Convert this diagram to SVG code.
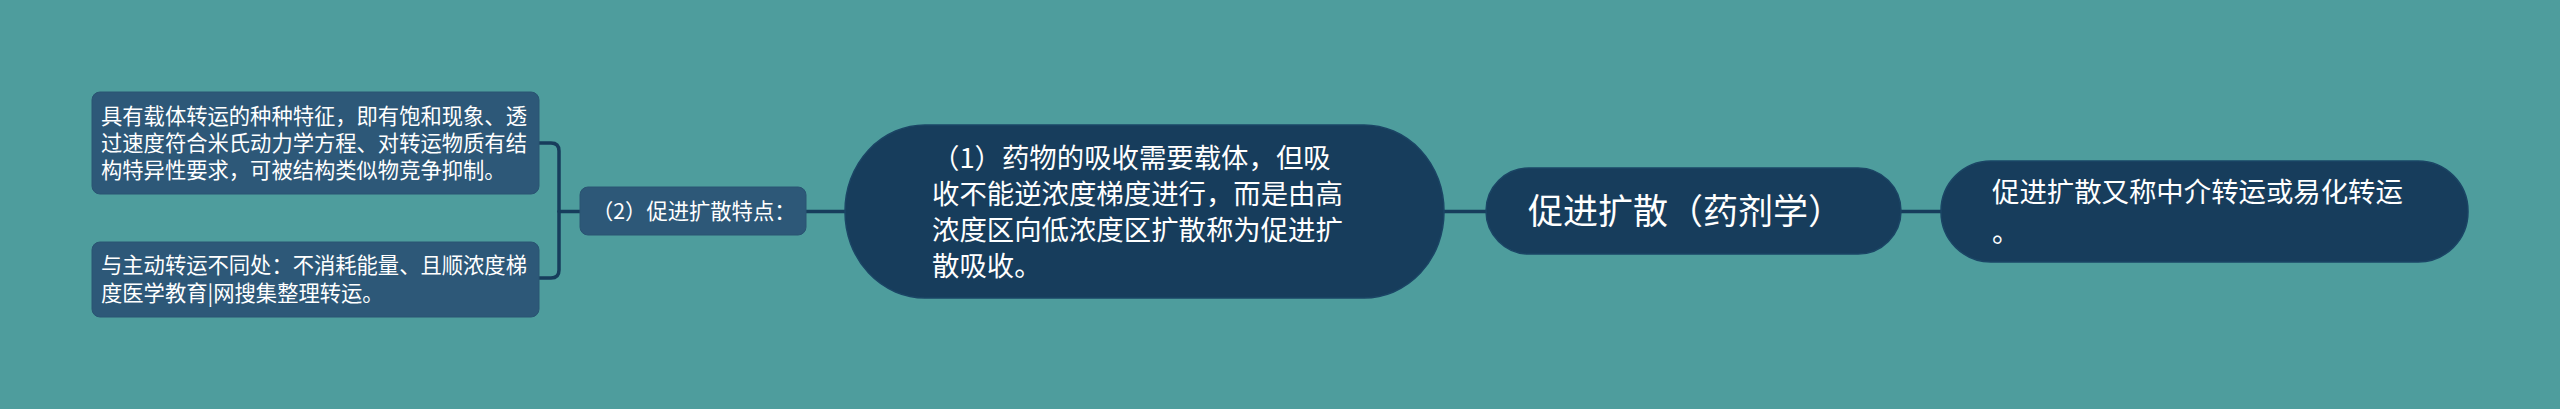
<svg xmlns="http://www.w3.org/2000/svg" width="2560" height="409" viewBox="0 0 2560 409">
<style>
.bg{fill:#4e9d9d}
.node{fill:#173d5c;stroke:#1b4565;stroke-width:1.5}
.sub{fill:#2d5878;stroke:#2a5472;stroke-width:1}
.t{font-family:"Noto Sans CJK SC","Noto Sans",sans-serif;fill:#ffffff}
.edge{fill:none;stroke:#173d5c;stroke-width:3.5;stroke-linecap:round;stroke-linejoin:round}
</style>
<rect class="bg" x="0" y="0" width="2560" height="409"/>
<g id="connectors">
<line class="edge" x1="1444" y1="211.5" x2="1486" y2="211.5"/>
<line class="edge" x1="1901" y1="211.5" x2="1941" y2="211.5"/>
<line class="edge" x1="806" y1="211.5" x2="845" y2="211.5"/>
<line class="edge" x1="559" y1="211.5" x2="580" y2="211.5"/>
<path class="edge" d="M539,143 H551 Q559,143 559,151 V270 Q559,278 551,278 H539"/>
</g>
<g id="root">
<rect class="node" x="1486" y="168" width="415" height="86" rx="43" ry="43"/>
<text class="t" x="1528" y="224" font-size="35">促进扩散（药剂学）</text>
</g>
<g id="right">
<rect class="node" x="1941" y="161" width="527" height="101" rx="50" ry="50"/>
<text class="t" font-size="27.4"><tspan x="1992" y="202">促进扩散又称中介转运或易化转运</tspan><tspan x="1992" y="242">。</tspan></text>
</g>
<g id="n1">
<rect class="node" x="845" y="125" width="599" height="173" rx="80" ry="86"/>
<text class="t" font-size="27.4"><tspan x="932" y="167.5">（1）药物的吸收需要载体，但吸</tspan><tspan x="932" y="203.5">收不能逆浓度梯度进行，而是由高</tspan><tspan x="932" y="239.5">浓度区向低浓度区扩散称为促进扩</tspan><tspan x="932" y="275.5">散吸收。</tspan></text>
</g>
<g id="n2">
<rect class="sub" x="580" y="187" width="226" height="48" rx="8" ry="8"/>
<text class="t" x="592" y="219" font-size="21.3">（2）促进扩散特点：</text>
</g>
<g id="n3">
<rect class="sub" x="92" y="92" width="447" height="102" rx="8" ry="8"/>
<text class="t" font-size="21.3"><tspan x="101" y="124">具有载体转运的种种特征，即有饱和现象、透</tspan><tspan x="101" y="151">过速度符合米氏动力学方程、对转运物质有结</tspan><tspan x="101" y="178">构特异性要求，可被结构类似物竞争抑制。</tspan></text>
</g>
<g id="n4">
<rect class="sub" x="92" y="242" width="447" height="75" rx="8" ry="8"/>
<text class="t" font-size="21.3"><tspan x="101" y="273">与主动转运不同处：不消耗能量、且顺浓度梯</tspan><tspan x="101" y="301">度医学教育|网搜集整理转运。</tspan></text>
</g>
</svg>
